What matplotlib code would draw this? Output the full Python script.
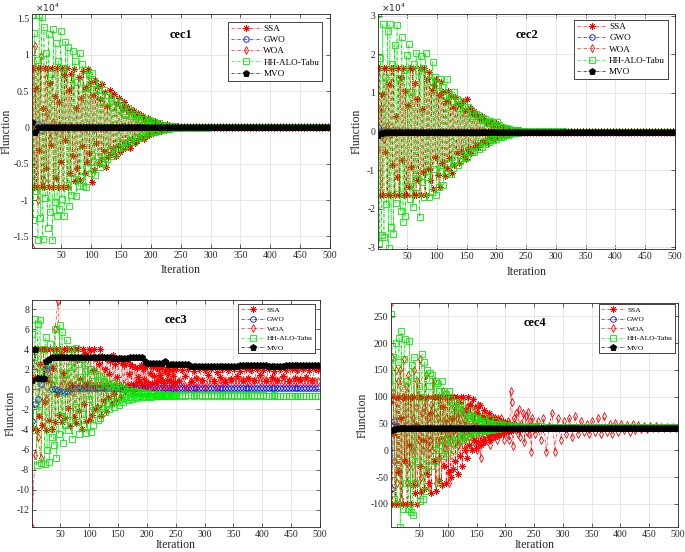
import matplotlib
matplotlib.use('Agg')
import matplotlib.pyplot as plt
from matplotlib.ticker import FuncFormatter

plt.rcParams['font.family'] = ['Liberation Serif', 'DejaVu Serif']
plt.rcParams['axes.unicode_minus'] = False

# ---------------- data ----------------
# iterations: every 2nd iteration up to 250, then every 5th
it_dense = list(range(1, 251, 2)) + list(range(251, 501, 5))
# iterations: every 5th
it_sparse = list(range(1, 501, 5))
names = ['SSA', 'GWO', 'WOA', 'HH-ALO-Tabu', 'MVO']
xticks = [50, 100, 150, 200, 250, 300, 350, 400, 450, 500]

# ---- cec1 ----
ssa1 = [0, 8200, -8200, 5400, -8200, 8200, -3100, 8200, -8200, 2600,
        -8200, 8200, -5600, 8200, -8200, 6100, -2400, 8200, -8200, 4300,
        -6900, 8200, -8200, 3500, -4700, 8200, -8200, 7200, -1800, 8200,
        -8200, 5200, -6300, 7400, -3900, 8000, -7400, 2600, -5600, 6900,
        -7200, 4100, -2600, 7800, -6300, 5600, -4800, 8100, -3500, 6300,
        -7500, 4400, -5900, 6500, -2200, 5700, -5100, 3900, -4300, 6000,
        -3300, 4800, -5400, 2900, -4100, 5200, -3600, 4400, -2800, 4600,
        -4000, 3300, -2500, 4100, -3400, 2700, -3000, 3500, -2100, 2900,
        -2600, 2200, -2800, 2500, -1700, 2300, -2200, 1600, -1900, 2000,
        -1500, 1700, -1300, 1500, -1600, 1100, -1200, 1300, -900, 1000,
        -900, 800, -700, 900, -600, 700, -500, 600, -450, 500,
        -400, 350, -300, 400, -250, 300, -200, 250, -150, 200,
        -150, 120, -100, 100, -80,
        -80, 80, -60, 60, -50, 50, -40, 40, -40, 40,
        60, -40, 50, -30, 40, -50, 30, -40, 60, -30,
        40, -30, 50, -20, 30, -40, 20, -30, 40, -20,
        30, -20, 40, -30, 20, -20, 30, -20, 20, -30,
        20, -20, 30, -10, 20, -20, 10, -20, 20, -10]
gwo1 = [800, -600, 400, -300, 200, 100, 0, 0, 0, 0,
        0, 0, 0, 0, 0, 0, 0, 0, 0, 0,
        0, 0, 0, 0, 0, 0, 0, 0, 0, 0,
        0, 0, 0, 0, 0, 0, 0, 0, 0, 0,
        0, 0, 0, 0, 0, 0, 0, 0, 0, 0,
        0, 0, 0, 0, 0, 0, 0, 0, 0, 0,
        0, 0, 0, 0, 0, 0, 0, 0, 0, 0,
        0, 0, 0, 0, 0, 0, 0, 0, 0, 0,
        0, 0, 0, 0, 0, 0, 0, 0, 0, 0,
        0, 0, 0, 0, 0, 0, 0, 0, 0, 0]
woa1 = [-16500, 11200, -10000, 9800, -7200, 2000, -1500, 800, -500, 300,
        -300, 200, -200, 150, -100, 100, -80, 60, -50, 40,
        30, -30, 20, -20, 20, -20, 10, -10, 10, -10,
        0, 0, 0, 0, 0, 0, 0, 0, 0, 0,
        0, 0, 0, 0, 0, 0, 0, 0, 0, 0,
        0, 0, 0, 0, 0, 0, 0, 0, 0, 0,
        0, 0, 0, 0, 0, 0, 0, 0, 0, 0,
        0, 0, 0, 0, 0, 0, 0, 0, 0, 0,
        0, 0, 0, 0, 0, 0, 0, 0, 0, 0,
        0, 0, 0, 0, 0, 0, 0, 0, 0, 0]
hh1 = [15500, -12700, 13000, -8800, 9300, -15500, 15500, -12500, 15200, -15400,
       13800, -9700, 10200, -13800, 12900, -11700, 7400, -15500, 13500, -10300,
       11600, -12200, 9100, -11300, 13300, -9800, 8200, -12200, 11800, -7900,
       11000, -10800, 6600, -9300, 10500, -7100, 9200, -9500, 6300, -8100,
       10300, -6800, 8700, -8000, 5400, -8200, 7900, -5600, 7200, -6300,
       7500, -4800, 6100, -6500, 5200, -3900, 6000, -5500, 4300, -4700,
       5200, -5000, 3600, -4400, 4500, -3100, 4100, -4000, 2800, -3600,
       3800, -3200, 2500, -2900, 3500, -2200, 3000, -2700, 1900, -2400,
       2600, -2000, 2200, -1800, 1500, -2000, 1900, -1400, 1600, -1500,
       1200, -1300, 1400, -1000, 1100, -1100, 800, -900, 1000, -700,
       900, -600, 700, -650, 500, -500, 550, -400, 350, -380,
       300, -280, 250, -220, 200, -200, 150, -150, 120, -100,
       100, -90, 80, -70, 60,
       100, -80, 60, -50, 40, -30, 30, -20, 20, -20,
       10, -10, 10, -10, 0, 0, 0, 0, 0, 0,
       0, 0, 0, 0, 0, 0, 0, 0, 0, 0,
       0, 0, 0, 0, 0, 0, 0, 0, 0, 0,
       0, 0, 0, 0, 0, 0, 0, 0, 0, 0]
mvo1 = [800, -700, 0, 0, 0, 0, 0, 0, 0, 0,
        0, 0, 0, 0, 0, 0, 0, 0, 0, 0,
        0, 0, 0, 0, 0, 0, 0, 0, 0, 0,
        0, 0, 0, 0, 0, 0, 0, 0, 0, 0,
        0, 0, 0, 0, 0, 0, 0, 0, 0, 0,
        0, 0, 0, 0, 0, 0, 0, 0, 0, 0,
        0, 0, 0, 0, 0, 0, 0, 0, 0, 0,
        0, 0, 0, 0, 0, 0, 0, 0, 0, 0,
        0, 0, 0, 0, 0, 0, 0, 0, 0, 0,
        0, 0, 0, 0, 0, 0, 0, 0, 0, 0]

# ---- cec2 ----
ssa2 = [0, 16500, -16500, 9800, -16500, 16500, -5200, 16500, -16500, 12300,
        -16500, 16500, -8700, 16500, -16500, 4100, -11900, 16500, -16500, 14200,
        -7300, 16500, -16500, 10600, -16500, 6800, -14300, 16500, -9100, 16500,
        -16500, 12700, -16500, 8400, -12600, 16500, -16500, 5900, -10400, 16500,
        -16500, 13600, -9800, 15400, -12500, 10900, -14800, 12100, -6700, 13700,
        -11200, 9600, -14500, 12800, -8300, 10200, -11600, 7800, -9400, 10600,
        -6900, 9200, -10800, 6300, -8600, 8900, -5700, 7500, -8100, 6900,
        -5100, 8000, -6400, 5600, -7200, 8500, -4600, 6100, -5600, 4800,
        -4300, 5400, -3600, 4400, -4000, 3400, -3300, 4100, -2400, 3200,
        -2800, 2500, -2900, 2100, -1700, 2600, -2000, 1800, -1600, 2100,
        -1400, 1500, -1200, 1100, -1000, 1200, -800, 900, -700, 750,
        -600, 650, -500, 500, -400, 450, -350, 400, -300, 300,
        -250, 250, -200, 200, -150,
        -150, 200, -100, 150, -100, 100, -80, 100, -80, 80,
        -60, 60, -60, 60, -50, 50, -50, 50, -40, 40,
        -40, 40, -40, 40, -30, 30, -30, 30, -30, 30,
        -30, 30, -20, 20, -20, 20, -20, 20, -20, 20,
        -20, 20, -10, 10, -10, 10, -10, 10, -10, 10]
gwo2 = [1200, -800, 500, -300, 100, 0, 0, 0, 0, 0,
        0, 0, 0, 0, 0, 0, 0, 0, 0, 0,
        0, 0, 0, 0, 0, 0, 0, 0, 0, 0,
        0, 0, 0, 0, 0, 0, 0, 0, 0, 0,
        0, 0, 0, 0, 0, 0, 0, 0, 0, 0,
        0, 0, 0, 0, 0, 0, 0, 0, 0, 0,
        0, 0, 0, 0, 0, 0, 0, 0, 0, 0,
        0, 0, 0, 0, 0, 0, 0, 0, 0, 0,
        0, 0, 0, 0, 0, 0, 0, 0, 0, 0,
        0, 0, 0, 0, 0, 0, 0, 0, 0, 0]
woa2 = [-4500, 6000, -2000, 1500, -1000, 500, -300, 200, -100, 100,
        0, 0, 0, 0, 0, 0, 0, 0, 0, 0,
        0, 0, 0, 0, 0, 0, 0, 0, 0, 0,
        0, 0, 0, 0, 0, 0, 0, 0, 0, 0,
        0, 0, 0, 0, 0, 0, 0, 0, 0, 0,
        0, 0, 0, 0, 0, 0, 0, 0, 0, 0,
        0, 0, 0, 0, 0, 0, 0, 0, 0, 0,
        0, 0, 0, 0, 0, 0, 0, 0, 0, 0,
        0, 0, 0, 0, 0, 0, 0, 0, 0, 0,
        0, 0, 0, 0, 0, 0, 0, 0, 0, 0]
hh2 = [30500, -29000, 19200, -26800, 28000, -27500, 14100, -18900, 26000, -30300,
       28000, -24800, 17600, -26500, 22500, -18500, 27700, -16300, 13900, -20700,
       24500, -23500, 16000, -22000, 19800, -14200, 22800, -17500, 10300, -19600,
       17500, -16000, 20500, -12200, 15600, -22300, 19700, -13100, 16400, -17000,
       20500, -11900, 15000, -17000, 13200, -15600, 18000, -9700, 14100, -16500,
       12000, -14500, 13500, -10200, 11500, -13800, 9300, -11000, 13600, -8200,
       9700, -11100, 8000, -9400, 10300, -7500, 8500, -8800, 6200, -7600,
       7800, -6200, 6900, -7000, 4800, -6500, 6300, -5000, 5500, -5400,
       4000, -5200, 4600, -3600, 4200, -4500, 3000, -3900, 3500, -2700,
       3200, -3300, 2200, -2800, 2700, -1900, 2400, -2300, 1600, -2000,
       2500, -1500, 1600, -1400, 1200, -1100, 1000, -900, 800, -800,
       650, -600, 500, -500, 450, -400, 350, -300, 300, -250,
       200, -200, 150, -120, 100,
       150, -100, 100, -80, 60, -50, 40, -30, 30, -20,
       10, -10, 10, -10, 0, 0, 0, 0, 0, 0,
       0, 0, 0, 0, 0, 0, 0, 0, 0, 0,
       0, 0, 0, 0, 0, 0, 0, 0, 0, 0,
       0, 0, 0, 0, 0, 0, 0, 0, 0, 0]
mvo2 = [-800, -500, -200, 0, 0, 0, 0, 0, 0, 0,
        0, 0, 0, 0, 0, 0, 0, 0, 0, 0,
        0, 0, 0, 0, 0, 0, 0, 0, 0, 0,
        0, 0, 0, 0, 0, 0, 0, 0, 0, 0,
        0, 0, 0, 0, 0, 0, 0, 0, 0, 0,
        0, 0, 0, 0, 0, 0, 0, 0, 0, 0,
        0, 0, 0, 0, 0, 0, 0, 0, 0, 0,
        0, 0, 0, 0, 0, 0, 0, 0, 0, 0,
        0, 0, 0, 0, 0, 0, 0, 0, 0, 0,
        0, 0, 0, 0, 0, 0, 0, 0, 0, 0]

# ---- cec3 ----
ssa3 = [4.0, -3.8, 4.0, 1.2, -4.0, 4.0, -2.6, 2.5, 4.0, -3.5,
        4.0, -1.3, -4.0, 4.0, 0.8, -3.0, 4.0, -3.9, 2.1, 4.0,
        -3.2, 4.0, -0.5, -2.5, 4.0, 3.5, -3.2, 1.6, 4.0, -2.8,
        4.0, -1.9, 3.1, -3.6, 4.0, 0.4, -2.7, 4.0, -3.3, 2.9,
        4.0, -2.2, 1.0, -3.9, 4.0, -1.5, 3.6, -3.1, 0.6, 4.0,
        -3.0, 3.9, -2.5, 1.9, 4.0, -2.0, 3.0, -1.8, 2.5, 4.0,
        -2.6, 3.3, -1.2, 2.0, -2.2, 3.0, -0.8, 1.5, 2.8, -1.5,
        3.4, -0.5, 2.5, -1.1, 1.2, 3.0, 0.0, -0.8, 2.6, 0.2,
        2.4, -0.3, 2.9, 0.3, 1.5, 2.5, 0.5, 2.3, -0.2, 2.2,
        0.6, 2.1, 1.2, 0.8, 2.4, 0.4, 2.0, 1.0, 2.2, 0.7,
        2.5, 0.5, 1.6, 2.3, 0.6, 2.2, 1.3, 0.7, 2.1, 0.8,
        2.0, 1.4, 1.0, 2.2, 0.6, 1.8, 2.0, 0.9, 1.5, 2.0,
        0.8, 1.9, 1.3, 2.0, 0.7,
        2.0, 0.8, 1.9, 1.3, 2.0, 0.7, 1.8, 1.1, 2.0, 0.9,
        1.9, 1.4, 2.0, 0.8, 1.7, 1.2, 2.0, 0.7, 1.9, 1.0,
        2.0, 1.3, 1.8, 0.8, 2.0, 1.1, 1.9, 0.9, 2.0, 1.4,
        1.9, 0.8, 2.0, 1.2, 1.8, 0.9, 2.0, 1.3, 1.9, 0.8,
        2.0, 1.1, 1.9, 1.0, 2.0, 1.2, 1.9, 0.9, 2.0, 1.9]
gwo3 = [-3.1, -1.5, -1.0, 0.5, 1.0, 2.0, 2.3, 0.0, 0.0, -0.1,
        -0.2, -0.3, -0.2, 0.0, 0.15, 0.15, 0.15, 0.15, 0.15, 0.15,
        0.15, 0.15, 0.15, 0.15, 0.15, 0.15, 0.15, 0.15, 0.15, 0.15,
        0.15, 0.15, 0.15, 0.15, 0.15, 0.15, 0.15, 0.15, 0.15, 0.15,
        0.15, 0.15, 0.15, 0.15, 0.15, 0.15, 0.15, 0.15, 0.15, 0.15,
        0.15, 0.15, 0.15, 0.15, 0.15, 0.15, 0.15, 0.15, 0.15, 0.15,
        0.15, 0.15, 0.15, 0.15, 0.15, 0.15, 0.15, 0.15, 0.15, 0.15,
        0.15, 0.15, 0.15, 0.15, 0.15, 0.15, 0.15, 0.15, 0.15, 0.15,
        0.15, 0.15, 0.15, 0.15, 0.15, 0.15, 0.15, 0.15, 0.15, 0.15,
        0.15, 0.15, 0.15, 0.15, 0.15, 0.15, 0.15, 0.15, 0.15, 0.15]
woa3 = [-13.7, -6.5, -4.7, -6.8, 2.0, -1.0, 1.5, 0.5, 6.0, 8.8,
        0.3, 1.0, 0.2, 0.5, -0.3, 0.4, 0.2, 0.6, 0.3, 0.2,
        0.5, 0.3, 0.2, 0.4, 0.3, 0.2, 0.3, 0.5, 0.2, 0.3,
        0.3, 0.2, 0.4, 0.3, 0.2, 0.3, 0.2, 0.4, 0.3, 0.2,
        0.3, 0.4, 0.2, 0.3, 0.5, 0.3, 0.2, 0.3, 0.4, 0.3,
        0.2, 0.5, 0.8, 0.3, 0.2, 0.8, 0.9, 0.2, 0.8, 0.85,
        0.2, 0.85, 0.8, 0.85, 0.2, 0.9, 0.85, 0.8, 0.85, 0.9,
        0.85, 0.8, 0.85, 0.9, 0.85, 0.85, 0.8, 0.85, 0.9, 0.85,
        0.85, 0.9, 0.85, 0.8, 0.85, 0.85, 0.9, 0.85, 0.8, 0.85,
        0.85, 0.8, 0.85, 0.9, 0.85, 0.85, 0.8, 0.85, 0.85, 0.85]
hh3 = [5.5, -4.0, 3.2, 7.0, -7.5, 6.5, -2.1, 6.9, -7.3, 1.8,
       4.0, -7.4, 5.2, -6.0, 2.7, -7.2, 4.5, -4.7, 0.9, -5.5,
       6.0, -6.8, 3.9, -4.4, 6.4, -2.6, 5.7, -5.3, 1.5, -3.5,
       4.9, -4.0, 2.2, -3.0, 4.0, -4.9, 3.1, -1.8, 4.1, -3.2,
       2.5, -4.4, 1.2, -2.4, 3.0, -3.6, 1.8, -4.3, 2.6, -1.0,
       2.0, -4.2, 0.8, -3.5, 1.8, -2.0, 1.5, -3.0, 0.4, -2.8,
       1.3, -1.9, 0.8, -2.3, 1.0, -1.5, 0.5, -2.0, 0.2, -1.2,
       0.6, -1.8, 0.3, -1.3, 0.5, -1.6, 0.2, -1.0, 0.0, -1.3,
       0.1, -0.9, -0.2, -1.1, 0.0, -0.8, -0.3, -1.0, -0.2, -0.8,
       -0.3, -0.9, -0.4, -0.7, -0.3, -0.8, -0.4, -0.7, -0.5, -0.8,
       -0.4, -0.7, -0.5, -0.75, -0.45, -0.7, -0.5, -0.7, -0.55, -0.65,
       -0.5, -0.7, -0.55, -0.65, -0.55, -0.7, -0.6, -0.65, -0.55, -0.65,
       -0.6, -0.65, -0.6, -0.65, -0.6,
       -0.55, -0.65, -0.6, -0.65, -0.55, -0.6, -0.65, -0.6, -0.6, -0.65,
       -0.6, -0.65, -0.6, -0.65, -0.6, -0.65, -0.6, -0.65, -0.6, -0.65,
       -0.6, -0.65, -0.6, -0.65, -0.6, -0.65, -0.6, -0.65, -0.6, -0.65,
       -0.6, -0.65, -0.65, -0.65, -0.6, -0.65, -0.65, -0.65, -0.65, -0.65,
       -0.65, -0.65, -0.65, -0.65, -0.65, -0.65, -0.65, -0.65, -0.65, -0.65]
mvo3 = [0.9, 4.0, 1.1, 1.1, 1.1, 2.8, 3.0, 3.2, 3.2, 3.2,
        3.2, 3.2, 3.2, 3.2, 3.2, 3.2, 3.2, 3.2, 3.2, 3.2,
        3.2, 3.2, 3.2, 3.2, 3.2, 3.2, 3.2, 3.2, 3.1, 3.1,
        3.1, 3.1, 3.1, 3.1, 3.2, 3.2, 3.2, 3.2, 3.2, 2.8,
        2.6, 2.6, 2.6, 2.6, 2.6, 2.6, 2.8, 2.5, 2.5, 2.5,
        2.5, 2.5, 2.5, 2.5, 2.5, 2.3, 2.3, 2.3, 2.3, 2.3,
        2.3, 2.3, 2.3, 2.3, 2.3, 2.3, 2.3, 2.3, 2.3, 2.3,
        2.3, 2.3, 2.45, 2.45, 2.45, 2.45, 2.45, 2.45, 2.45, 2.45,
        2.45, 2.45, 2.3, 2.3, 2.3, 2.3, 2.3, 2.3, 2.4, 2.4,
        2.4, 2.4, 2.4, 2.4, 2.4, 2.4, 2.4, 2.4, 2.4, 2.4]

# ---- cec4 ----
ssa4 = [90, -100, 100, 30, -100, 100, -40, 100, -100, 60,
        -100, 100, -20, 100, -100, 100, 10, -100, 100, -65,
        100, -80, 50, -100, 100, -30, -78, 100, 20, -72,
        100, -45, 100, -60, 70, -80, 100, -20, 100, -75,
        40, 100, -55, 100, -65, 80, -30, 100, -60, 100,
        -40, 100, -50, 60, -35, 100, -20, 100, -45, 90,
        -10, 100, -30, 100, 0, 75, -15, 100, 10, 85,
        0, 95, 20, 80, 5, 70, 15, 85, 10, 65,
        20, 75, 15, 60, 25, 70, 20, 58, 30, 62,
        25, 55, 30, 60, 28, 52, 35, 55, 32, 50,
        35, 52, 36, 50, 37, 48, 38, 49, 39, 47,
        39, 46, 40, 45, 40, 45, 41, 44, 41, 44,
        41, 43, 42, 43, 42,
        45, 39, 44, 40, 44, 41, 43, 41, 43, 41,
        43, 42, 43, 42, 43, 42, 42, 42, 42, 42,
        42, 42, 42, 42, 42, 42, 42, 42, 42, 42,
        42, 42, 42, 42, 42, 42, 42, 42, 42, 42,
        42, 42, 42, 42, 42, 42, 42, 42, 42, 42]
gwo4 = [-73, 55, 45, 42, 42, 42, 42, 42, 42, 42,
        42, 42, 42, 42, 42, 42, 42, 42, 42, 42,
        42, 42, 42, 42, 42, 42, 42, 42, 42, 42,
        42, 42, 42, 42, 42, 42, 42, 42, 42, 42,
        42, 42, 42, 42, 42, 42, 42, 42, 42, 42,
        42, 42, 42, 42, 42, 42, 42, 42, 42, 42,
        42, 42, 42, 42, 42, 42, 42, 42, 42, 42,
        42, 42, 42, 42, 42, 42, 42, 42, 42, 42,
        42, 42, 42, 42, 42, 42, 42, 42, 42, 42,
        42, 42, 42, 42, 42, 42, 42, 42, 42, 42]
woa4 = [275, 175, 108, -20, 150, -60, 130, -40, 150, -90,
        100, 170, -20, 120, -60, 140, -30, 100, 0, 60,
        150, -60, 80, 130, 20, 170, -50, 70, 0, 80,
        140, 10, 60, -70, 20, 85, 0, 130, 70, -60,
        20, 60, -15, 85, 20, 110, 50, 5, 60, 30,
        -60, 55, 20, 100, 40, 80, 30, 60, 10, 70,
        45, 20, 75, 30, 55, 0, 80, 40, 25, 85,
        35, 60, 15, 70, 45, 0, 85, 30, -15, 60,
        40, 20, 65, 45, 30, 55, 10, 60, 40, 25,
        60, 35, 20, 55, 45, 30, 60, 40, 20, 50,
        45, 30, 55, 20, 110, 90, 8, 60, 40, 70,
        30, 78, 25, 50, 45, 70, 15, 65, 35, 72,
        30, 55, -3, 60, 40,
        30, 55, 20, 60, -3, 45, 70, -3, 60, 20,
        55, 30, 60, 25, 65, 30, 55, 35, 50, 30,
        55, 35, 60, 30, 65, 35, 50, 30, 52, 35,
        50, 38, 48, 35, 50, 38, 47, 40, 46, 40,
        45, 41, 45, 42, 44, 42, 44, 42, 43, 42]
hh4 = [255, 120, 175, -90, 200, -100, 165, 210, -143, 222,
       -110, 170, 207, -60, 130, -110, 204, -115, 160, -120,
       175, -60, 140, -20, 120, -95, 100, 180, -90, 165,
       -75, 150, -40, 120, 145, -30, 140, -20, 130, 0,
       125, -60, 110, 10, 130, -10, 110, 20, 105, -5,
       110, 15, 95, 20, 85, 0, 90, 30, 75, 15,
       80, 25, 88, 20, 70, 30, 65, 25, 60, 35,
       75, 30, 62, 35, 60, 38, 58, 35, 55, 40,
       62, 38, 55, 36, 52, 40, 58, 38, 50, 40,
       55, 42, 50, 40, 48, 42, 50, 41, 47, 42,
       48, 42, 47, 41, 46, 42, 46, 43, 45, 42,
       45, 43, 45, 43, 44, 43, 44, 43, 44, 43,
       44, 43, 43, 43, 43,
       45, 42, 45, 42, 44, 43, 44, 43, 43, 43,
       43, 43, 43, 43, 43, 43, 43, 43, 43, 43,
       43, 43, 43, 43, 43, 43, 43, 43, 43, 43,
       43, 43, 43, 43, 43, 43, 43, 43, 43, 43,
       43, 43, 43, 43, 43, 43, 43, 43, 43, 43]
mvo4 = [38, 40, 42, 42, 42, 42, 42, 42, 42, 42,
        42, 42, 42, 42, 42, 42, 42, 42, 42, 42,
        42, 42, 42, 42, 42, 42, 42, 42, 42, 42,
        42, 42, 42, 42, 42, 42, 42, 42, 42, 42,
        42, 42, 42, 42, 42, 42, 42, 42, 42, 42,
        42, 42, 42, 42, 42, 42, 42, 42, 42, 42,
        42, 42, 42, 42, 42, 42, 42, 42, 42, 42,
        42, 42, 42, 42, 42, 42, 42, 42, 42, 42,
        42, 42, 42, 42, 42, 42, 42, 42, 42, 42,
        42, 42, 42, 42, 42, 42, 42, 42, 42, 42]

D, S = it_dense, it_sparse
panels = [
    dict(title='cec1', series=[(D, ssa1), (S, gwo1), (S, woa1), (D, hh1), (S, mvo1)],
         ylim=(-16600, 15600), yticks=[-15000, -10000, -5000, 0, 5000, 10000, 15000],
         scale=1e4, rect=(32, 14, 330, 248), leg=(0.973, 0.966), legfs=6.6, legsp=0.3,
         ylab=-0.084, xlab=-0.094),
    dict(title='cec2', series=[(D, ssa2), (S, gwo2), (S, woa2), (D, hh2), (S, mvo2)],
         ylim=(-30500, 30500), yticks=[-30000, -20000, -10000, 0, 10000, 20000, 30000],
         scale=1e4, rect=(378, 14, 675, 249), leg=(0.976, 0.974), legfs=6.6, legsp=0.3,
         ylab=-0.071, xlab=-0.097),
    dict(title='cec3', series=[(D, ssa3), (S, gwo3), (S, woa3), (D, hh3), (S, mvo3)],
         ylim=(-13.7, 8.9), yticks=[-12, -10, -8, -6, -4, -2, 0, 2, 4, 6, 8],
         scale=1, rect=(32, 300, 320, 527), leg=(0.983, 0.982), legfs=5.4, legsp=0.45,
         ylab=-0.076, xlab=-0.078),
    dict(title='cec4', series=[(D, ssa4), (S, gwo4), (D, woa4), (D, hh4), (S, mvo4)],
         ylim=(-143, 275), yticks=[-100, -50, 0, 50, 100, 150, 200, 250],
         scale=1, rect=(391, 303, 678, 527), leg=(0.99, 0.995), legfs=5.4, legsp=0.45,
         ylab=-0.10, xlab=-0.08),
]

colors = ['#ff0000', '#0000ff', '#ff0000', '#00ee00', '#000000']
markers = [(8, 2, 0), 'o', 'd', 's', 'p']
msizes = [4.5, 4.0, 4.2, 3.8, 4.5]
mfaces = ['#ff0000', 'none', 'none', 'none', '#000000']

W, H = 685, 552
fig = plt.figure(figsize=(W / 100, H / 100), dpi=100)

for p in panels:
    l, t, r, b = p['rect']
    ax = fig.add_axes([l / W, 1 - b / H, (r - l) / W, (b - t) / H])
    handles = []
    for (xs, vals), c, m, ms, mf in zip(p['series'], colors, markers, msizes, mfaces):
        h, = ax.plot(xs, vals, color=c, linestyle=(0, (5, 2, 1, 2)), lw=0.45,
                     marker=m, markersize=ms, markerfacecolor=mf,
                     markeredgecolor=c, markeredgewidth=0.6)
        handles.append(h)
    ax.set_xlim(1, 500)
    ax.set_ylim(*p['ylim'])
    ax.set_xticks(xticks)
    ax.set_yticks(p['yticks'])
    s = p['scale']
    ax.yaxis.set_major_formatter(FuncFormatter(lambda v, pos, s=s: '%g' % (v / s)))
    ax.grid(True, color='#e3e3e3', lw=0.6)
    ax.set_axisbelow(True)
    ax.tick_params(direction='in', top=True, right=True, length=3, width=0.5,
                   labelsize=7, colors='#262626', pad=2)
    for sp in ax.spines.values():
        sp.set_linewidth(0.6)
        sp.set_color('#262626')
    ax.set_xlabel('Iteration', fontsize=8.5, color='#262626')
    ax.set_ylabel('Flunction', fontsize=8.5, color='#262626')
    ax.xaxis.set_label_coords(0.5, p['xlab'])
    ax.xaxis.label.set_va('center')
    ax.yaxis.set_label_coords(p['ylab'], 0.5)
    ax.yaxis.label.set_va('center')
    ax.text(0.5, 0.91, p['title'], transform=ax.transAxes, ha='center', va='center',
            fontsize=9, fontweight='bold')
    if s != 1:
        ax.text(0.01, 1.0, r'$\times 10^{4}$', transform=ax.transAxes, ha='left',
                va='bottom', fontsize=6.5, color='#262626')
    leg = ax.legend(handles, names, loc='upper right', bbox_to_anchor=p['leg'],
                    fontsize=p['legfs'], fancybox=False, framealpha=1,
                    edgecolor='#262626', borderpad=0.3, labelspacing=p['legsp'],
                    handlelength=3.2, handletextpad=0.3, borderaxespad=0,
                    numpoints=1)
    leg.get_frame().set_linewidth(0.6)

fig.savefig('out.png', dpi=100, facecolor='white')
